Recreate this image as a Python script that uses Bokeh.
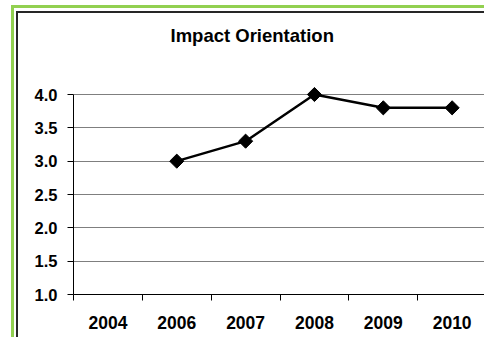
import math
from bokeh.plotting import figure
from bokeh.models import (Range1d, FixedTicker, CustomJSTickFormatter,
                          NumeralTickFormatter, Title)
from bokeh.embed import file_html
from bokeh.resources import INLINE

title_text = "Impact Orientation"
categories = ["2004", "2006", "2007", "2008", "2009", "2010"]
data_years = ["2006", "2007", "2008", "2009", "2010"]
values = [3.0, 3.3, 4.0, 3.8, 3.8]
y_ticks = [1.0, 1.5, 2.0, 2.5, 3.0, 3.5, 4.0]

xpos = [categories.index(c) + 0.5 for c in data_years]

W, H = 484, 337
FONT = "Liberation Sans"

p = figure(width=W, height=H, output_backend="svg", toolbar_location=None,
           x_range=Range1d(0, 5.97), y_range=Range1d(1.0, 4.12),
           min_border_left=73, min_border_right=0, min_border_top=86,
           min_border_bottom=43)
p.outline_line_color = None
p.background_fill_color = "white"
p.border_fill_color = None
# outer green frame and inner dark frame (only left and top edges are in view)
p.styles = {
    "background-color": "white",
    "background-image": ("linear-gradient(#262626,#262626), linear-gradient(#262626,#262626), "
                         "linear-gradient(#92D050,#92D050), linear-gradient(#92D050,#92D050)"),
    "background-size": "2px 2000px, 2000px 2px, 3px 2000px, 2000px 3px",
    "background-position": "16px 11px, 16px 11px, 11px 5px, 11px 5px",
    "background-repeat": "no-repeat",
}

# title: a thin spacer next to the plot area, then the real title above it
spacer = Title(text=" ", text_font_size="1px", standoff=38)
title = Title(text=title_text, align="left", offset=97, standoff=0,
              text_font=FONT, text_font_style="bold", text_font_size="18.5px",
              text_color="black")
p.add_layout(spacer, "above")
p.add_layout(title, "above")

# x axis (categories, ticks between categories)
xa = p.xaxis[0]
xa.ticker = FixedTicker(ticks=[i + 0.5 for i in range(len(categories))],
                        minor_ticks=list(range(len(categories) + 1)))
xa.formatter = CustomJSTickFormatter(args=dict(labels=categories),
                                     code="return labels[Math.floor(tick)];")
xa.major_tick_line_color = None
xa.minor_tick_line_color = "black"
xa.minor_tick_in = 0
xa.minor_tick_out = 6
xa.axis_line_color = "black"
xa.axis_line_width = 1
xa.major_label_text_font = FONT
xa.major_label_text_font_style = "bold"
xa.major_label_text_font_size = "17.5px"
xa.major_label_text_color = "black"
xa.major_label_standoff = 15

# y axis
ya = p.yaxis[0]
ya.bounds = (y_ticks[0], y_ticks[-1])
ya.ticker = FixedTicker(ticks=y_ticks, minor_ticks=[])
ya.formatter = NumeralTickFormatter(format="0.0")
ya.major_tick_in = 0
ya.major_tick_out = 6
ya.major_tick_line_color = "black"
ya.minor_tick_line_color = None
ya.axis_line_color = "black"
ya.major_label_text_font = FONT
ya.major_label_text_font_style = "bold"
ya.major_label_text_font_size = "16.5px"
ya.major_label_text_color = "black"
ya.major_label_standoff = 10

p.xgrid.visible = False
p.ygrid.ticker = FixedTicker(ticks=y_ticks)
p.ygrid.grid_line_color = "#7f7f7f"
p.ygrid.grid_line_width = 1

# series
p.line(xpos, values, line_color="black", line_width=2.5)
p.scatter(xpos, values, marker="square", angle=math.pi / 4, size=10,
          fill_color="black", line_color="black")

open("out.html", "w").write(file_html(p, INLINE))
